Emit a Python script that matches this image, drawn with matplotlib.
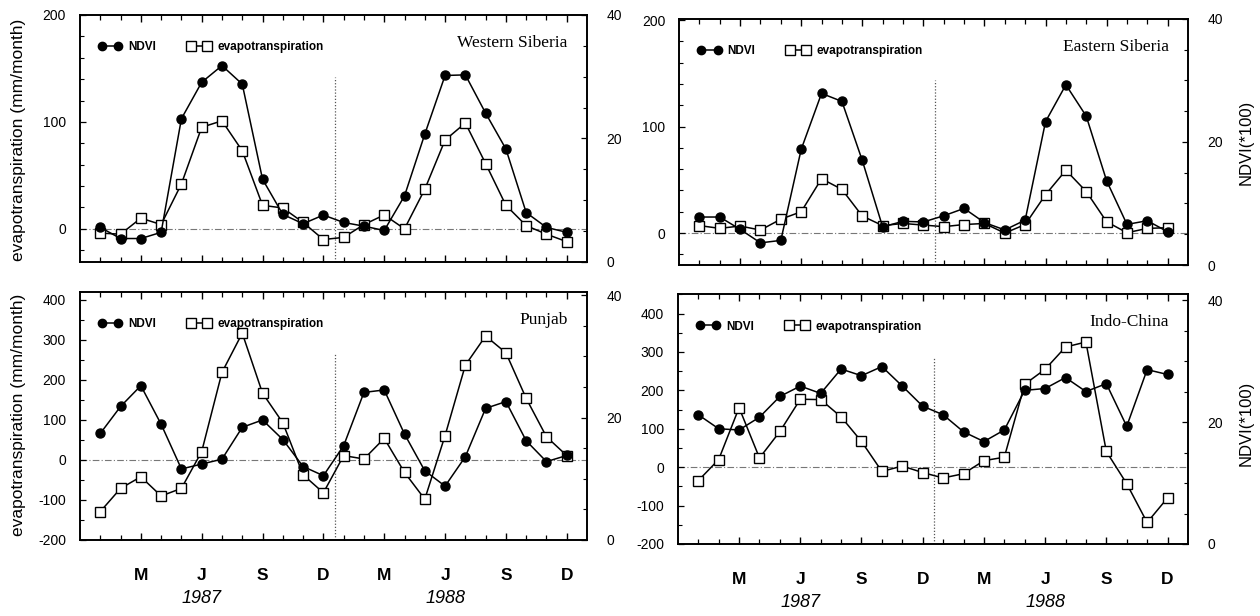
import numpy as np
import matplotlib
matplotlib.use("Agg")
import matplotlib.pyplot as plt
from matplotlib.ticker import MultipleLocator, FixedLocator
from matplotlib.lines import Line2D

plt.rcParams['font.family'] = ['Liberation Sans', 'DejaVu Sans']
plt.rcParams['axes.unicode_minus'] = False

# Jan 1987 .. Dec 1988, one point per month
months = np.arange(24)
month_ticks = [2, 5, 8, 11, 14, 17, 20, 23]
month_labels = ['M', 'J', 'S', 'D', 'M', 'J', 'S', 'D']
years = ['1987', '1988']
year_pos = [5, 17]

# Western Siberia
ws_ndvi = [5.6, 3.8, 3.8, 4.8, 23.2, 29.1, 31.8, 28.8, 13.4, 7.7, 6.2, 7.6,
           6.4, 5.8, 5.1, 10.7, 20.7, 30.2, 30.3, 24.1, 18.3, 8.0, 5.6, 4.8]
ws_evap = [-4, -5, 10, 4, 42, 95, 101, 73, 22, 19.5, 6, -10,
           -8, 4, 13, 0, 37, 83, 99, 61, 22, 3, -5, -12]

# Eastern Siberia
es_ndvi = [7.8, 7.8, 5.8, 3.6, 4.0, 18.8, 27.9, 26.6, 17.0, 6.2, 7.1, 7.0,
           8.0, 9.2, 6.9, 5.7, 7.3, 23.3, 29.3, 24.2, 13.7, 6.6, 7.2, 5.4]
es_evap = [7, 4.4, 6.6, 2.8, 13, 20, 51, 41, 16, 7, 9, 7.5,
           6, 8, 9, 0, 8, 36, 59, 39, 10.6, 0.3, 4.4, 5]

# Punjab
pj_ndvi = [17.4, 21.8, 25.2, 18.9, 11.6, 12.4, 13.2, 18.4, 19.6, 16.4, 12.0, 10.5,
           15.4, 24.1, 24.5, 17.3, 11.3, 8.8, 13.6, 21.5, 22.6, 16.2, 12.8, 13.8]
pj_evap = [-129, -71, -42, -90, -71, 21, 219, 317, 167, 93, -37, -82,
           11, 2.5, 54, -31, -98, 61, 237, 310, 268, 154, 58, 11]

# Indo-China
ic_ndvi = [21.2, 18.9, 18.7, 20.8, 24.2, 25.9, 24.7, 28.7, 27.6, 29.1, 25.9, 22.6,
           21.2, 18.4, 16.8, 18.7, 25.2, 25.5, 27.3, 25.0, 26.3, 19.3, 28.6, 27.8]
ic_evap = [-35, 20, 155, 24, 93, 177, 176, 131, 67, -11, 3, -14,
           -28, -17, 17, 26, 216, 255, 313, 326, 41, -43, -144, -80]

fig = plt.figure(figsize=(12.6, 6.16), dpi=100)

# name, evap, ndvi, left ylim, right ylim, left major step, left minor step, axes rect
panels = [
    ("Western Siberia", ws_evap, ws_ndvi, (-31, 200), (0, 40), 100, 20,
     [0.0635, 0.5747, 0.4024, 0.401]),
    ("Eastern Siberia", es_evap, es_ndvi, (-30, 201), (0, 40), 100, 20,
     [0.5389, 0.5698, 0.404, 0.3994]),
    ("Punjab", pj_evap, pj_ndvi, (-200, 420), (0, 40.5), 100, 50,
     [0.0635, 0.1234, 0.4024, 0.4026]),
    ("Indo-China", ic_evap, ic_ndvi, (-200, 451), (0, 41), 100, 50,
     [0.538, 0.1169, 0.4048, 0.4058]),
]

for i, (name, evap, ndvi, ylim, ylim2, major, minor, rect) in enumerate(panels):
    ax = fig.add_axes(rect)
    ax2 = ax.twinx()

    ax.axhline(0, color='#777777', lw=0.8, dashes=(6, 2, 1, 2), zorder=1)
    ax.axvline(11.55, ymin=0, ymax=0.75, color='#555555', lw=0.9,
               linestyle=(0, (1, 1.5)), zorder=1)

    ax.plot(months, evap, color='k', lw=1.1, marker='s', ms=7,
            mfc='white', mec='k', mew=1.0, zorder=3)
    ax2.plot(months, ndvi, color='k', lw=1.1, marker='o', ms=6.5,
             mfc='k', mec='k', zorder=3)

    ax.set_xlim(-1, 24)
    ax.set_ylim(*ylim)
    ax2.set_ylim(*ylim2)

    ax.xaxis.set_major_locator(FixedLocator(month_ticks))
    ax.xaxis.set_minor_locator(FixedLocator(months))
    ax.yaxis.set_major_locator(MultipleLocator(major))
    ax.yaxis.set_minor_locator(MultipleLocator(minor))
    ax2.yaxis.set_major_locator(MultipleLocator(20))
    ax2.yaxis.set_minor_locator(MultipleLocator(5))

    ax.tick_params(axis='x', which='both', direction='in', top=True, bottom=True)
    ax.tick_params(axis='x', which='major', length=5, width=1.0, pad=20)
    ax.tick_params(axis='x', which='minor', length=3.5, width=0.9)
    ax.tick_params(axis='y', which='major', direction='in', length=4,
                   width=0.9, labelsize=10, pad=10)
    ax.tick_params(axis='y', which='minor', direction='in', length=3, width=0.8)
    ax2.tick_params(axis='y', which='major', direction='in', length=4,
                    width=0.9, labelsize=10, pad=14)
    ax2.tick_params(axis='y', which='minor', direction='in', length=3, width=0.8)

    if i >= 2:
        ax.set_xticklabels(month_labels, fontsize=12.5, fontweight='bold')
        for yr, xp in zip(years, year_pos):
            ax.text(xp, -0.235, yr, transform=ax.get_xaxis_transform(),
                    ha='center', va='center', fontsize=13, fontstyle='italic')
    else:
        ax.set_xticklabels([])

    for a in (ax, ax2):
        for s in a.spines.values():
            s.set_linewidth(1.2)

    ax.text(0.962, 0.888, name, transform=ax.transAxes, ha='right', va='center',
            fontsize=12.5, family=['Liberation Serif', 'DejaVu Serif'])

    handles = [
        Line2D([], [], color='k', lw=1.1, marker='o', ms=6, mfc='k', mec='k'),
        Line2D([], [], color='k', lw=1.1, marker='s', ms=6.5, mfc='white', mec='k'),
    ]
    ax2.legend(handles, ['NDVI', 'evapotranspiration'], loc='center left',
               bbox_to_anchor=(0.027, 0.87), ncol=2, frameon=False, numpoints=2,
               handlelength=2.0, handletextpad=0.55, columnspacing=2.6,
               borderaxespad=0, prop={'size': 8.5, 'weight': 'bold'})

# axis titles
for yc in (1 - 140 / 616, 1 - 415 / 616):
    fig.text(18.5 / 1260, yc, 'evapotranspiration (mm/month)', rotation=90,
             ha='center', va='center', fontsize=12.5)
for yc in (1 - 142 / 616, 1 - 423 / 616):
    fig.text(1246 / 1260, yc, 'NDVI(*100)', rotation=90,
             ha='center', va='center', fontsize=12)

fig.savefig('out.png', dpi=100, facecolor='white')
